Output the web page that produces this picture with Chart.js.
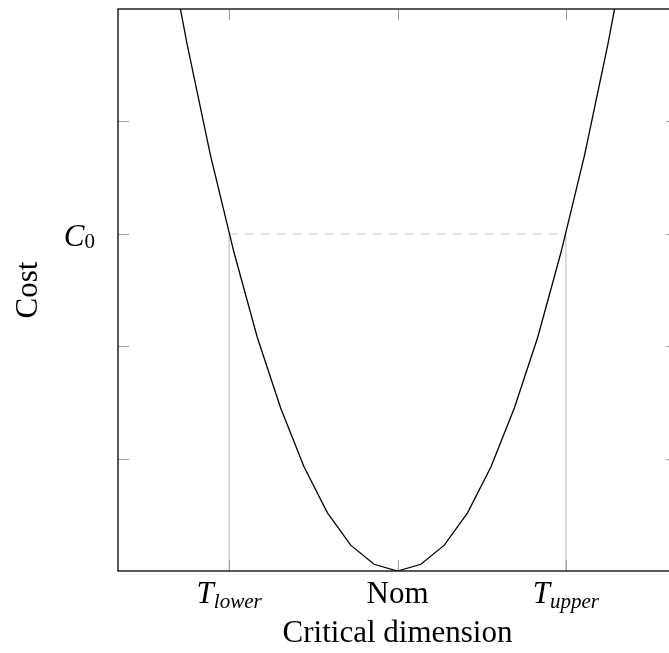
<!DOCTYPE html>
<html>
<head>
<meta charset="utf-8">
<script src="https://cdn.jsdelivr.net/npm/chart.js@4.4.0/dist/chart.umd.min.js"></script>
<style>
  html, body { margin: 0; padding: 0; background: #fff; overflow: hidden; }
  #wrap { width: 700px; height: 653px; }
</style>
</head>
<body>
<div id="wrap"><canvas id="costChart"></canvas></div>
<script>
// cost curve (25 samples)
var dimValues = [-1.667, -1.528, -1.389, -1.250, -1.111, -0.972, -0.833, -0.694, -0.556, -0.417, -0.278, -0.139, 0,
                 0.139, 0.278, 0.417, 0.556, 0.694, 0.833, 0.972, 1.111, 1.250, 1.389, 1.528, 1.667];
var costValues = [8.33, 7.00, 5.79, 4.69, 3.70, 2.84, 2.08, 1.45, 0.93, 0.52, 0.23, 0.06, 0,
                  0.06, 0.23, 0.52, 0.93, 1.45, 2.08, 2.84, 3.70, 4.69, 5.79, 7.00, 8.33];

// tolerance limits and the cost level C0
var tolLower = -1;
var tolUpper = 1;
var costC0 = 3;

// ticks
var xTickValues = [-1, 0, 1];
var xTickLabels = ["T_lower", "Nom", "T_upper"];
var yTickValues = [1, 2, 3, 4];
var yTickLabels = ["", "", "C_0", ""];

var SERIF = '"Liberation Serif", "Times New Roman", serif';

var curve = dimValues.map(function (d, i) { return { x: d, y: costValues[i] }; });

// draws "main_sub" as main text with a subscript
function drawSubLabel(ctx, text, x, y, align, subDrop) {
  var parts = text.split("_");
  var main = parts[0], sub = parts[1] || "";
  var mainFont = (sub ? "italic " : "") + "31px " + SERIF;
  var subFont = (/^[0-9]+$/.test(sub) ? "" : "italic ") + "21px " + SERIF;
  ctx.font = mainFont;
  var w1 = ctx.measureText(main).width;
  ctx.font = subFont;
  var w2 = sub ? ctx.measureText(sub).width : 0;
  var x0 = align === "center" ? x - (w1 + w2) / 2 : x - (w1 + w2);
  ctx.textAlign = "left";
  ctx.textBaseline = "alphabetic";
  ctx.fillStyle = "#000";
  ctx.font = mainFont;
  ctx.fillText(main, x0, y);
  if (sub) {
    ctx.font = subFont;
    ctx.fillText(sub, x0 + w1, y + subDrop);
  }
}

var framePlugin = {
  id: "frame",
  afterDatasetsDraw: function (chart) {
    var ctx = chart.ctx, a = chart.chartArea;
    var xs = chart.scales.x, ys = chart.scales.y;
    ctx.save();
    // inward ticks, grey
    ctx.strokeStyle = "#a0a0a0";
    ctx.lineWidth = 1;
    ctx.beginPath();
    xTickValues.forEach(function (v) {
      var px = Math.round(xs.getPixelForValue(v)) + 0.5;
      ctx.moveTo(px, a.bottom); ctx.lineTo(px, a.bottom - 11);
      ctx.moveTo(px, a.top); ctx.lineTo(px, a.top + 11);
    });
    yTickValues.forEach(function (v) {
      var py = Math.round(ys.getPixelForValue(v)) + 0.5;
      ctx.moveTo(a.left, py); ctx.lineTo(a.left + 11, py);
      ctx.moveTo(a.right, py); ctx.lineTo(a.right - 11, py);
    });
    ctx.stroke();
    // black box
    ctx.strokeStyle = "#000";
    ctx.lineWidth = 1.3;
    ctx.strokeRect(a.left, a.top, a.right - a.left, a.bottom - a.top);
    ctx.restore();
  },
  afterDraw: function (chart) {
    var ctx = chart.ctx, a = chart.chartArea;
    var xs = chart.scales.x, ys = chart.scales.y;
    ctx.save();
    xTickValues.forEach(function (v, i) {
      drawSubLabel(ctx, xTickLabels[i], xs.getPixelForValue(v), 603, "center", 5);
    });
    yTickValues.forEach(function (v, i) {
      if (yTickLabels[i]) drawSubLabel(ctx, yTickLabels[i], 95, ys.getPixelForValue(v) + 12, "right", 2);
    });
    // axis titles
    ctx.fillStyle = "#000";
    ctx.font = "31px " + SERIF;
    ctx.textAlign = "center";
    ctx.textBaseline = "alphabetic";
    ctx.fillText("Critical dimension", (a.left + a.right) / 2, 642);
    ctx.translate(37, (a.top + a.bottom) / 2);
    ctx.rotate(-Math.PI / 2);
    ctx.fillText("Cost", 0, 0);
    ctx.restore();
  }
};

var ctx = document.getElementById("costChart").getContext("2d");
var chart = new Chart(ctx, {
  type: "line",
  data: {
    datasets: [
      {
        data: curve,
        borderColor: "#000",
        borderWidth: 1.3,
        pointRadius: 0,
        tension: 0,
      },
      {
        data: [{ x: tolLower, y: costC0 }, { x: tolUpper, y: costC0 }],
        borderColor: "#d4d4d4",
        borderWidth: 1.3,
        borderDash: [9, 7],
        pointRadius: 0,
      },
      {
        data: [{ x: tolLower, y: 0 }, { x: tolLower, y: costC0 }],
        borderColor: "#c8c8c8",
        borderWidth: 1.3,
        pointRadius: 0,
      },
      {
        data: [{ x: tolUpper, y: 0 }, { x: tolUpper, y: costC0 }],
        borderColor: "#c8c8c8",
        borderWidth: 1.3,
        pointRadius: 0,
      },
    ],
  },
  options: {
    responsive: true,
    maintainAspectRatio: false,
    animation: false,
    layout: { padding: { top: 9, right: 23, left: 0, bottom: 0 } },
    plugins: { legend: { display: false }, tooltip: { enabled: false } },
    scales: {
      x: {
        type: "linear",
        min: -1.66,
        max: 1.66,
        grid: { display: false },
        border: { display: false },
        ticks: { display: false },
        afterFit: function (s) { s.height = 82; },
      },
      y: {
        min: 0,
        max: 5,
        grid: { display: false },
        border: { display: false },
        ticks: { display: false },
        afterFit: function (s) { s.width = 118; },
      },
    },
  },
  plugins: [framePlugin],
});
</script>
</body>
</html>
